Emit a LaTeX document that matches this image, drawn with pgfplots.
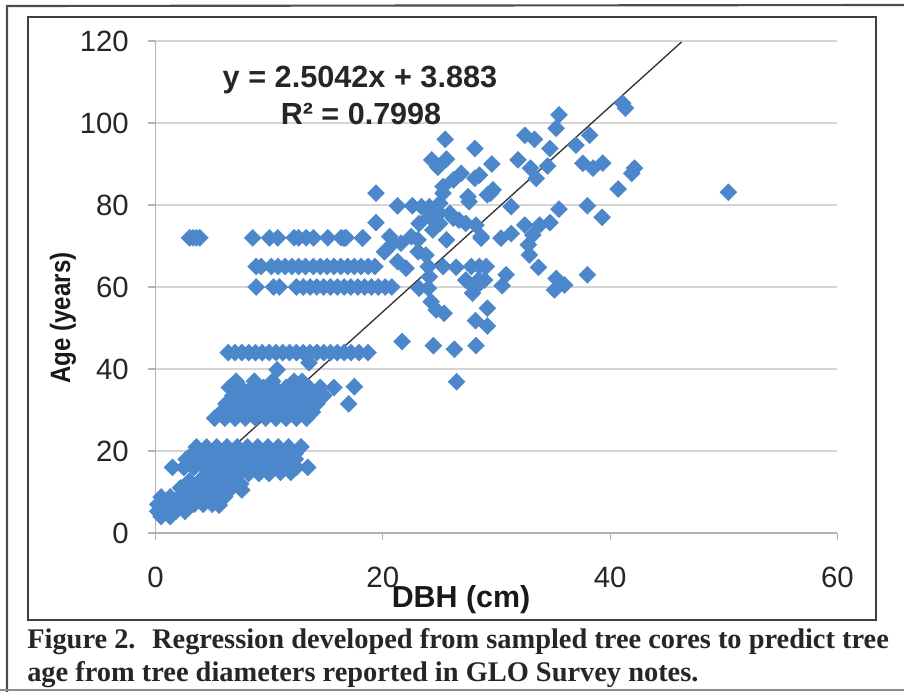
\documentclass[border=0pt]{standalone}
\usepackage{pgfplots}
\pgfplotsset{compat=1.18}
\usepackage{fontspec}
\setmainfont{Liberation Sans}
\newfontfamily\capfont{Liberation Serif}
\definecolor{pt}{RGB}{76,135,203}
\begin{document}
\begin{tikzpicture}
\begin{scope}[x=0.75pt,y=-0.75pt]
\useasboundingbox (0,0) rectangle (904,692);
\draw[color=black!70,line width=1.6pt] (7,692) -- (7,6) -- (904,5);
\draw[color=black!45,line width=1pt] (0,690) -- (904,690);
\draw[color=black!75,line width=1.4pt] (28,620) -- (28,17) -- (876,17) -- (876,620) -- cycle;
\end{scope}
\begin{axis}[
  at={(116.6pt,-399.75pt)},anchor=south west,scale only axis,
  width=511.5pt,height=369pt,
  xmin=0,xmax=60,ymin=0,ymax=120,
  axis x line=bottom,axis y line=left,axis line style={-,draw=black!30,line width=0.8pt},
  xtick={0,20,40,60},ytick={0,20,40,60,80,100,120},
  tick align=outside,major tick length=5.5pt,
  tick style={draw=black!30,line width=0.8pt},
  ymajorgrids,grid style={draw=black!17,line width=0.9pt},
  clip=false,
  /pgf/number format/assume math mode=true,
  tick label style={font=\fontsize{22}{24}\selectfont,text=black!85},
  xticklabel style={yshift=-16.5pt},
  yticklabel style={xshift=-11pt},
]
\addplot[color=pt,only marks,mark=square*,mark size=4.5pt,mark options={rotate=45,fill=pt,draw=pt,line width=0.3pt}] coordinates {
(3.0,72)(3.3,72)(3.6,72)(3.9,72)
(8.56,72)(10.03,72)(10.76,72)(12.2,72)(12.6,72)(13.25,72)(13.9,72)(15.16,72)(16.33,72)(16.77,72)(18.24,72)
(8.85,65)(9.3,65)(10.2,65)(10.8,65)(11.4,65)(12,65)(12.6,65)(13.2,65)(13.9,65)(14.5,65)(15.1,65)(15.7,65)(16.3,65)(16.9,65)(17.5,65)(18.1,65)(18.7,65)(19.3,65)
(8.85,60)(10.4,60)(10.9,60)(12.4,60)(13,60)(13.6,60)(14.2,60)(14.8,60)(15.4,60)(16,60)(16.6,60)(17.2,60)(17.8,60)(18.4,60)(19,60)(19.6,60)(20.2,60)(20.8,60)
(6.4,44)(7,44)(7.6,44)(8.2,44)(8.8,44)(9.4,44)(10,44)(10.6,44)(11.2,44)(11.8,44)(12.4,44)(13,44)(13.6,44)(14.2,44)(14.8,44)(15.4,44)(16,44)(16.6,44)(17.2,44)(18.7,44)(17.9,44)
(13.5,41.5)(10.7,39.8)
(7.1,37)(8.7,37)(10.3,37)(12.2,37)(12.9,37)
(6.5,35.5)(7.5,35.5)(8.5,35.5)(9.5,35.5)(10.5,35.5)(11.5,35.5)(12.5,35.5)(13.5,35.5)(14.5,35.5)(15.7,35.5)(17.5,35.7)
(6.8,33.5)(7.8,33.5)(8.8,33.5)(9.8,33.5)(10.8,33.5)(11.8,33.5)(12.8,33.5)(13.8,33.5)(14.8,33.5)
(6.2,31.5)(7.2,31.5)(8.2,31.5)(9.2,31.5)(10.2,31.5)(11.2,31.5)(12.2,31.5)(13.2,31.5)(14.2,31.5)(17,31.5)
(5.8,29.5)(6.8,29.5)(7.8,29.5)(8.8,29.5)(9.8,29.5)(10.8,29.5)(11.8,29.5)(12.8,29.5)(13.8,29.5)
(5.2,28)(6.1,28)(7,28)(7.9,28)(8.8,28)(9.7,28)(10.6,28)(11.5,28)(12.4,28)(13.3,28)
(3.6,21)(4.5,21)(5.4,21)(6.3,21)(7.2,21)(8.1,21)(9,21)(9.9,21)(10.8,21)(11.7,21)(12.8,21)
(3.3,19.5)(4.2,19.5)(5.1,19.5)(6,19.5)(6.9,19.5)(7.8,19.5)(8.7,19.5)(9.6,19.5)(10.5,19.5)(11.4,19.5)(12.3,19.5)
(2.7,18)(3.6,18)(4.5,18)(5.4,18)(6.3,18)(7.2,18)(8.1,18)(9,18)(9.9,18)(10.8,18)(11.7,18)(12.3,18)
(1.5,16)(2.5,16)(3.4,16)(4.3,16)(5.2,16)(6.1,16)(7,16)(7.9,16)(8.8,16)(9.7,16)(10.6,16)(11.5,16)(12.4,16)(13.4,16)
(4.6,14.5)(5.5,14.5)(6.4,14.5)(7.3,14.5)(8.2,14.5)(9.1,14.5)(10,14.5)(11,14.8)(11.9,14.8)
(3,12.7)(3.9,12.7)(4.8,12.7)(5.7,12.7)(6.6,12.7)(7.5,12)
(2.2,11)(3.1,11)(4,11)(4.9,11)(5.8,11)(6.7,11)(7.6,10.5)
(0.5,8.8)(1.3,8.8)(2.1,8.8)(2.9,8.8)(3.7,8.8)(4.5,8.8)(5.3,8.8)(6.1,8.8)
(0.2,7)(1,7)(1.8,7)(2.6,7)(3.4,7)(4.2,7)(5,7)(5.6,6.8)
(0.2,5.3)(1,5.3)(1.8,5.3)(2.6,5.3)
(0.5,4)(1.3,4)
(25.5,96)(28.1,93.8)(35.5,102)(35.25,98.7)(32.5,97)(33.35,96)(34.7,93.8)(38.2,97)(37,94.6)(41.35,103.6)(41.1,104.8)
(42.15,89)(41.9,87.7)(40.7,83.9)(39.3,77)(38,79.8)(35.5,79)(34.7,75.7)(33.8,75.1)(32.5,75.1)(33.2,72.7)(31.3,73)(30.4,71.9)(28.65,71.9)(31.3,79.6)
(32.8,70.3)(32.9,67.8)(33.7,64.8)(38,63)(35.25,62.1)(36,60.5)(35.1,59.3)(30.85,63)(30.5,60.3)(27.9,58.5)
(28.4,61.7)(27.3,61.7)(28.95,61.7)(28.5,65)(27.8,65)(29.1,65)(28.1,59.7)
(29.2,54.8)(29.2,50.5)(28.15,51.8)(28.2,45.7)(26.3,44.8)(24.45,45.7)(21.7,46.7)(26.5,36.9)
(25.4,53.6)(24.7,54.4)(24.25,56.4)(23.2,59.7)(24,59.7)(24.1,62.5)(26.45,64.8)(25.3,65)(24,65)(22.05,64.6)(21.3,66.2)(23.8,67.8)(23.1,68.6)
(22.5,72.3)(23.1,71.5)(21.6,70.7)(20.6,72.3)(20.15,68.6)(20.9,70.7)(18.2,71.9)(16.6,71.9)(19.4,75.7)(19.4,82.9)(21.3,79.8)(22.6,79.8)(23.4,79.6)
(24.1,77.2)(25,78)(25,80.4)(25.3,82.9)(25.3,84.5)(26.2,86.1)(26.9,87.7)(28.1,86.5)(28.5,87.3)(27.5,82)(27.6,80.8)(29.5,82.9)(29.2,82.5)(29.7,83.7)
(23.2,75.5)(24.4,73.9)(25.6,71.5)(26.2,76.8)(27.3,75.5)(28.2,75.1)(28.65,72.3)(25,75.5)(24.1,79.6)(25.9,78)(26.7,76.3)
(24.3,91)(25.6,91.2)(24.85,89.2)(29.6,90)(31.9,91)(33,89)(33.5,86.5)(34.5,89.5)(37.6,90.2)(38.5,89)(39.35,90.2)(50.4,83.1)
};
\addplot[draw=black!80,line width=1pt] coordinates {(0,3.883)(46.3,119.8)};
\end{axis}
\begin{scope}[x=0.75pt,y=-0.75pt]
\node[font=\bfseries\fontsize{23}{26}\selectfont,text=black!85] at (360,80) {y = 2.5042x + 3.883};
\node[font=\bfseries\fontsize{22.9}{26}\selectfont,text=black!85] at (361,114) {R² = 0.7998};
\node[font=\bfseries\fontsize{22.8}{26}\selectfont,text=black!90] at (461,600) {DBH (cm)};
\node[font=\bfseries\fontsize{21}{24}\selectfont,text=black!90,rotate=90,xscale=0.86] at (63,318) {Age (years)};
\node[font=\capfont\bfseries\fontsize{21.3}{24}\selectfont,anchor=base west,text=black!85,inner sep=0pt] at (27,648) {Figure 2.~ Regression developed from sampled tree cores to predict tree};
\node[font=\capfont\bfseries\fontsize{21.3}{24}\selectfont,anchor=base west,text=black!85,inner sep=0pt] at (27,681) {age from tree diameters reported in GLO Survey notes.};
\end{scope}
\end{tikzpicture}
\end{document}
